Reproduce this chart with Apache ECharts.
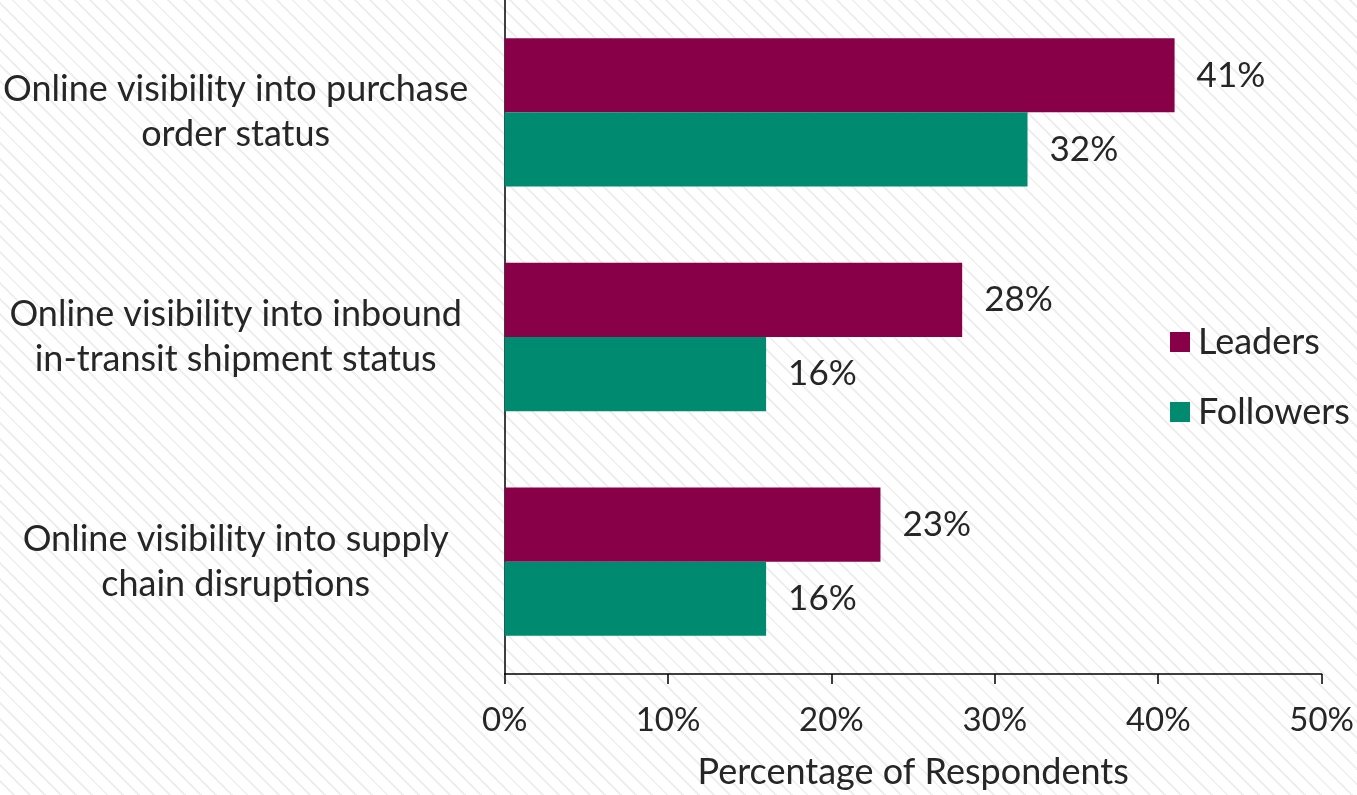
<!DOCTYPE html>
<html>
<head>
<meta charset="utf-8">
<style>
  html, body { margin: 0; padding: 0; }
  body {
    width: 1357px; height: 795px; overflow: hidden;
    background-color: #ffffff;
    background-image: repeating-linear-gradient(45deg, #ffffff 0px, #ffffff 9px, #efefef 9px, #efefef 11px);
  }
  #chart { width: 1357px; height: 795px; }
</style>
<script src="https://cdn.jsdelivr.net/npm/echarts@6/dist/echarts.min.js"></script>
</head>
<body>
<div id="chart"></div>
<script>
// Survey categories, top to bottom
const categories = [
  'Online visibility into purchase\norder status',
  'Online visibility into inbound\nin-transit shipment status',
  'Online visibility into supply\nchain disruptions'
];
// Share of respondents (%)
const leaders = [41, 28, 23];
const followers = [32, 16, 16];
const axisMax = 50;
const axisStep = 10;

const FONT = 'Lato, "Open Sans", sans-serif';
const TEXT = '#262626';

const chart = echarts.init(document.getElementById('chart'), null, { renderer: 'canvas' });

chart.setOption({
  backgroundColor: 'transparent',
  animation: false,
  textStyle: { fontFamily: FONT },
  grid: { left: 504, right: 33, top: 0, bottom: 115, containLabel: false },
  legend: {
    orient: 'vertical',
    left: 1170,
    top: 324,
    padding: 0,
    itemWidth: 20,
    itemHeight: 20,
    itemGap: 34,
    icon: 'rect',
    textStyle: { fontFamily: FONT, fontSize: 36, color: TEXT, padding: [0, 0, 0, 3] },
    data: ['Leaders', 'Followers']
  },
  xAxis: {
    type: 'value',
    min: 0,
    max: axisMax,
    interval: axisStep,
    name: 'Percentage of Respondents',
    nameLocation: 'middle',
    nameGap: 80,
    nameTextStyle: { fontFamily: FONT, fontSize: 36, color: TEXT },
    axisLine: { show: true, lineStyle: { color: '#000', width: 1.5 } },
    axisTick: { show: true, length: 10, inside: false, lineStyle: { color: '#000', width: 1.5 } },
    axisLabel: { fontFamily: FONT, fontSize: 33, color: TEXT, margin: 30, formatter: '{value}%' },
    splitLine: { show: false }
  },
  yAxis: {
    type: 'category',
    inverse: true,
    data: categories,
    axisLine: { show: true, lineStyle: { color: '#000', width: 1.5 } },
    axisTick: { show: false },
    axisLabel: {
      fontFamily: FONT, fontSize: 36, color: TEXT,
      align: 'center', margin: 269, lineHeight: 45
    }
  },
  series: [
    {
      name: 'Leaders',
      type: 'bar',
      data: leaders,
      barGap: '0%',
      barCategoryGap: '34%',
      itemStyle: { color: '#870048' },
      label: {
        show: true, position: 'right', distance: 22,
        formatter: '{c}%', fontFamily: FONT, fontSize: 35, color: TEXT
      }
    },
    {
      name: 'Followers',
      type: 'bar',
      data: followers,
      barGap: '0%',
      barCategoryGap: '34%',
      itemStyle: { color: '#008A70' },
      label: {
        show: true, position: 'right', distance: 22,
        formatter: '{c}%', fontFamily: FONT, fontSize: 35, color: TEXT
      }
    }
  ]
});
</script>
</body>
</html>
